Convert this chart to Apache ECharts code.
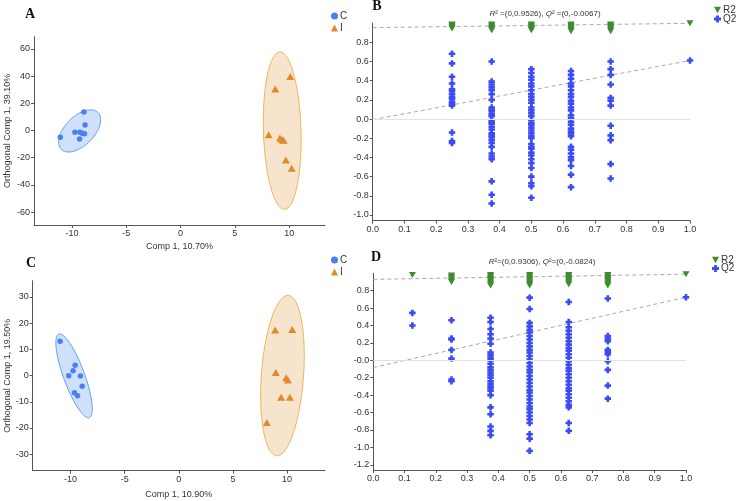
<!DOCTYPE html>
<html><head><meta charset="utf-8">
<script src="https://cdn.jsdelivr.net/npm/echarts@6/dist/echarts.min.js"></script>
<style>html,body{margin:0;padding:0;background:#fff}#c{width:740px;height:501px}</style>
</head><body><div id="c"></div>
<script>
// ---------- Panel A : OPLS-DA scores ----------
const scoresA_C = [[-11.08,-5.0],[-9.73,-1.3],[-9.27,-1.3],[-9.06,-2.1],[-8.85,-2.3],[-9.3,-6.2],[-8.9,13.6],[-8.8,4.0]];
const scoresA_I = [[10.1,39.8],[8.72,30.5],[8.11,-3.1],[9.15,-5.5],[9.34,-6.8],[9.49,-7.2],[9.7,-21.7],[10.23,-27.8]];
// ellipse: [centerX, centerY, axis1X, axis1Y, axis2X, axis2Y]
const ellipseA_C = [-9.3, -0.3, 1.69, 13.55, 0.943, -7.55];
const ellipseA_I = [9.36, -0.1, -0.2, 57.9, 1.73, 0.03];
const ticksA_x = [-10, -5, 0, 5, 10];
const ticksA_y = [-60, -40, -20, 0, 20, 40, 60];

// ---------- Panel C : OPLS-DA scores ----------
const scoresC_C = [[-10.97,13.05],[-9.58,3.9],[-9.77,1.8],[-10.17,-0.1],[-9.09,-0.2],[-8.93,-4.1],[-9.64,-6.6],[-9.36,-7.7]];
const scoresC_I = [[8.9,17.4],[10.47,17.6],[8.96,1.2],[9.92,-0.8],[10.07,-1.7],[9.45,-8.3],[10.26,-8.3],[8.13,-17.9]];
const ellipseC_C = [-9.68, -0.1, -1.414, 15.95, 0.911, 1.378];
const ellipseC_I = [9.57, 0.0, 0.536, 30.6, 1.94, -0.57];
const ticksC_x = [-10, -5, 0, 5, 10];
const ticksC_y = [-30, -20, -10, 0, 10, 20, 30];

// ---------- Panel B : permutation test ----------
const permX_B = [0.25, 0.375, 0.5, 0.625, 0.75];
const r2B = [
  [0.985, 0.975, 0.965, 0.955, 0.945],
  [0.985, 0.975, 0.965, 0.955, 0.945, 0.935, 0.925],
  [0.985, 0.975, 0.965, 0.955, 0.945, 0.935, 0.925],
  [0.985, 0.975, 0.965, 0.955, 0.945, 0.93, 0.915],
  [0.985, 0.975, 0.965, 0.955, 0.945, 0.93, 0.915]
];
const q2B = [
  [0.68, 0.58, 0.44, 0.37, 0.31, 0.29, 0.26, 0.23, 0.21, 0.18, 0.16, 0.14, -0.14, -0.23, -0.25],
  [0.6, 0.39, 0.36, 0.33, 0.3, 0.26, 0.2, 0.12, 0.1, 0.08, 0.05, 0.03, -0.01, -0.03, -0.05, -0.08, -0.11, -0.15, -0.17, -0.19, -0.22, -0.25, -0.29, -0.36, -0.39, -0.42, -0.65, -0.79, -0.88],
  [0.52, 0.48, 0.44, 0.41, 0.37, 0.34, 0.3, 0.26, 0.23, 0.2, 0.17, 0.12, 0.09, 0.06, 0.03, -0.01, -0.04, -0.06, -0.09, -0.12, -0.15, -0.18, -0.2, -0.26, -0.29, -0.31, -0.35, -0.38, -0.42, -0.46, -0.51, -0.6, -0.67, -0.7, -0.82],
  [0.5, 0.46, 0.42, 0.37, 0.34, 0.3, 0.26, 0.23, 0.19, 0.16, 0.12, 0.09, 0.04, 0.01, -0.03, -0.06, -0.1, -0.13, -0.15, -0.18, -0.29, -0.32, -0.36, -0.4, -0.43, -0.49, -0.58, -0.71],
  [0.6, 0.52, 0.46, 0.36, 0.22, 0.19, 0.14, -0.07, -0.17, -0.22, -0.47, -0.62]
];
const origR2B = 0.998, origQ2B = 0.61;
const r2InterceptB = 0.9526, q2InterceptB = -0.0067;
const ticksB_x = ['0.0','0.1','0.2','0.3','0.4','0.5','0.6','0.7','0.8','0.9','1.0'];
const ticksB_y = ['-1.0','-0.8','-0.6','-0.4','-0.2','0.0','0.2','0.4','0.6','0.8'];

// ---------- Panel D : permutation test ----------
const permX_D = [0.125, 0.25, 0.375, 0.5, 0.625, 0.75];
const r2D = [
  [0.98],
  [0.975, 0.96, 0.945, 0.93, 0.915, 0.9],
  [0.98, 0.965, 0.95, 0.935, 0.92, 0.905, 0.89, 0.875, 0.86],
  [0.98, 0.965, 0.95, 0.935, 0.92, 0.905, 0.89, 0.875, 0.86],
  [0.98, 0.965, 0.95, 0.935, 0.92, 0.905, 0.89, 0.875],
  [0.98, 0.965, 0.95, 0.935, 0.92, 0.905, 0.89, 0.875, 0.86]
];
const q2D = [
  [0.545, 0.4],
  [0.46, 0.25, 0.24, 0.12, 0.02, -0.22, -0.24],
  [0.49, 0.44, 0.36, 0.3, 0.25, 0.19, 0.09, 0.06, 0.03, 0.0, -0.04, -0.08, -0.11, -0.14, -0.17, -0.2, -0.24, -0.27, -0.3, -0.32, -0.35, -0.4, -0.54, -0.62, -0.76, -0.81, -0.86],
  [0.72, 0.59, 0.43, 0.39, 0.35, 0.32, 0.28, 0.24, 0.2, 0.16, 0.12, 0.09, 0.05, 0.01, -0.03, -0.07, -0.11, -0.14, -0.18, -0.22, -0.26, -0.3, -0.34, -0.37, -0.41, -0.45, -0.49, -0.53, -0.56, -0.6, -0.64, -0.68, -0.72, -0.85, -0.9, -1.04],
  [0.67, 0.44, 0.38, 0.34, 0.3, 0.26, 0.22, 0.18, 0.14, 0.11, 0.07, 0.03, -0.01, -0.05, -0.09, -0.12, -0.16, -0.2, -0.24, -0.28, -0.32, -0.35, -0.39, -0.43, -0.47, -0.51, -0.54, -0.72, -0.81],
  [0.71, 0.28, 0.25, 0.22, 0.12, 0.1, 0.07, -0.01, -0.11, -0.29, -0.44]
];
const origR2D = 0.99, origQ2D = 0.725;
const r2InterceptD = 0.9306, q2InterceptD = -0.0824;
const ticksD_x = ['0.0','0.1','0.2','0.3','0.4','0.5','0.6','0.7','0.8','0.9','1.0'];
const ticksD_y = ['-1.2','-1.0','-0.8','-0.6','-0.4','-0.2','-0.0','0.2','0.4','0.6','0.8'];

// ---------- styles ----------
const FONT = 'Liberation Sans';
const BLUE = '#4a80f0', ORANGE = '#de8b2c';
const Q2C = '#3c4cf5', R2C = '#3f8c2e';
const PLUS = 'path://M2.4,0H5.6V2.4H8V5.6H5.6V8H2.4V5.6H0V2.4H2.4Z';
const DOWN = 'path://M0,0L10,0L5,9Z';

function labelOf(labels) {
  const vals = labels.map(Number);
  return v => { const i = vals.findIndex(x => Math.abs(x - v) < 1e-9); return i >= 0 ? labels[i] : ''; };
}
function axisBase(gi) {
  return {
    gridIndex: gi, type: 'value',
    axisLine: { onZero: false, lineStyle: { color: '#555', width: 1 } },
    axisTick: { length: 3, lineStyle: { color: '#555' } },
    axisLabel: { color: '#333', fontSize: 9, fontFamily: FONT, margin: 4 },
    splitLine: { show: false },
    nameTextStyle: { color: '#333', fontSize: 9, fontFamily: FONT }
  };
}
function numAxis(gi, min, max, ticks, extra) {
  const a = axisBase(gi);
  a.min = min; a.max = max;
  a.axisLabel.customValues = ticks;
  a.axisTick.customValues = ticks;
  return Object.assign(a, extra || {});
}
function strAxis(gi, min, max, labels, extra) {
  const a = axisBase(gi);
  a.min = min; a.max = max;
  a.axisLabel.customValues = labels.map(Number);
  a.axisTick.customValues = labels.map(Number);
  a.axisLabel.formatter = labelOf(labels);
  return Object.assign(a, extra || {});
}
function ellipseSeries(params, gi, fill, stroke) {
  return {
    type: 'custom', xAxisIndex: gi, yAxisIndex: gi, z: 1, silent: true,
    data: [params], encode: { x: 0, y: 1 },
    renderItem: function (p, api) {
      const cx = api.value(0), cy = api.value(1), ux = api.value(2), uy = api.value(3), vx = api.value(4), vy = api.value(5);
      const pts = [];
      for (let k = 0; k < 120; k++) {
        const t = k / 120 * Math.PI * 2;
        pts.push(api.coord([cx + ux * Math.cos(t) + vx * Math.sin(t), cy + uy * Math.cos(t) + vy * Math.sin(t)]));
      }
      return { type: 'polygon', shape: { points: pts }, style: { fill: fill, stroke: stroke, lineWidth: 1 } };
    }
  };
}
function flatten(xs, cols) {
  const out = [];
  xs.forEach((x, i) => cols[i].forEach(v => out.push([x, v])));
  return out;
}
function permSeries(gi, xs, r2, q2, oR2, oQ2, iR2, iQ2) {
  const dash = { color: '#aaa', width: 1, type: [4, 3] };
  return [
    { type: 'line', xAxisIndex: gi, yAxisIndex: gi, data: [[0, iR2], [1, oR2]], symbol: 'none', lineStyle: dash, z: 3, silent: true },
    { type: 'line', xAxisIndex: gi, yAxisIndex: gi, data: [[0, iQ2], [1, oQ2]], symbol: 'none', lineStyle: dash, z: 3, silent: true },
    { name: 'R2', type: 'scatter', xAxisIndex: gi, yAxisIndex: gi, symbol: DOWN, symbolSize: [7, 6], clip: false,
      itemStyle: { color: R2C, opacity: 1 }, data: flatten(xs, r2).concat([[1, oR2]]), z: 4 },
    { name: 'Q2', type: 'scatter', xAxisIndex: gi, yAxisIndex: gi, symbol: PLUS, symbolSize: 6.5, clip: false,
      itemStyle: { color: Q2C, opacity: 1 }, data: flatten(xs, q2).concat([[1, oQ2]]), z: 4,
      markLine: { silent: true, symbol: 'none', label: { show: false }, animation: false,
        lineStyle: { color: '#e2e2e2', type: 'solid', width: 1 }, data: [{ yAxis: 0 }] } }
  ];
}
function legendAt(left, top, names, icons, gap) {
  return {
    left: left, top: top, orient: 'vertical', padding: 0, itemGap: gap, itemWidth: 7, itemHeight: 7,
    selectedMode: false,
    textStyle: { fontSize: 10, fontFamily: FONT, color: '#333', padding: [0, 0, 0, -3] },
    data: names.map((n, i) => ({ name: n, icon: icons[i] }))
  };
}

const chart = echarts.init(document.getElementById('c'), null, { renderer: 'canvas' });
chart.setOption({
  animation: false,
  backgroundColor: '#fff',
  grid: [
    { left: 34, top: 36.7, width: 291, height: 188.3 },
    { left: 372.7, top: 23.1, width: 317.3, height: 197.6 },
    { left: 32.7, top: 280.7, width: 292.3, height: 190 },
    { left: 373.3, top: 273.3, width: 312.7, height: 196.7 }
  ],
  xAxis: [
    numAxis(0, -13.5, 13.3, ticksA_x, { name: 'Comp 1, 10.70%', nameLocation: 'middle', nameGap: 17 }),
    strAxis(1, 0, 1, ticksB_x, {}),
    numAxis(2, -13.5, 13.5, ticksC_x, { name: 'Comp 1, 10.90%', nameLocation: 'middle', nameGap: 19 }),
    strAxis(3, 0, 1, ticksD_x, {})
  ],
  yAxis: [
    numAxis(0, -69.5, 69, ticksA_y, { name: 'Orthogonal Comp 1, 39.10%', nameLocation: 'middle', nameGap: 22 }),
    strAxis(1, -1.06, 1.0, ticksB_y, {}),
    numAxis(2, -36.3, 36.2, ticksC_y, { name: 'Orthogonal Comp 1, 19.50%', nameLocation: 'middle', nameGap: 21 }),
    strAxis(3, -1.26, 1.0, ticksD_y, {})
  ],
  legend: [
    legendAt(331, 11, ['C', 'I'], ['circle', 'triangle'], 2),
    legendAt(714, 5, ['R2', 'Q2'], [DOWN, PLUS], -1),
    legendAt(331, 255, ['C', 'I'], ['circle', 'triangle'], 2),
    legendAt(712, 255, ['R2', 'Q2'], [DOWN, PLUS], -1.5)
  ],
  graphic: [
    { type: 'text', x: 30, y: 14, style: { text: 'A', font: 'bold 14px "Liberation Serif"', fill: '#111', textAlign: 'center', textVerticalAlign: 'middle' } },
    { type: 'text', x: 377, y: 6.5, style: { text: 'B', font: 'bold 14px "Liberation Serif"', fill: '#111', textAlign: 'center', textVerticalAlign: 'middle' } },
    { type: 'text', x: 31, y: 263, style: { text: 'C', font: 'bold 14px "Liberation Serif"', fill: '#111', textAlign: 'center', textVerticalAlign: 'middle' } },
    { type: 'text', x: 376, y: 257, style: { text: 'D', font: 'bold 14px "Liberation Serif"', fill: '#111', textAlign: 'center', textVerticalAlign: 'middle' } },
    { type: 'text', x: 545, y: 13.5, style: { text: '{i|R}² =(0,0.9526), {i|Q}² =(0,-0.0067)', font: '8px "Liberation Sans"', fill: '#333', textAlign: 'center', textVerticalAlign: 'middle',
        rich: { i: { fontStyle: 'italic', fontSize: 8, fontFamily: FONT, fill: '#333' } } } },
    { type: 'text', x: 542, y: 262, style: { text: '{i|R}²=(0,0.9306), {i|Q}²=(0,-0.0824)', font: '8px "Liberation Sans"', fill: '#333', textAlign: 'center', textVerticalAlign: 'middle',
        rich: { i: { fontStyle: 'italic', fontSize: 8, fontFamily: FONT, fill: '#333' } } } }
  ],
  series: [
    ellipseSeries(ellipseA_C, 0, '#cfe0fb', '#5f9ef2'),
    ellipseSeries(ellipseA_I, 0, '#f6e4cc', '#efb55a'),
    { name: 'C', type: 'scatter', xAxisIndex: 0, yAxisIndex: 0, symbol: 'circle', symbolSize: 5.5, itemStyle: { color: BLUE, opacity: 1 }, data: scoresA_C, z: 5 },
    { name: 'I', type: 'scatter', xAxisIndex: 0, yAxisIndex: 0, symbol: 'triangle', symbolSize: [8, 7], itemStyle: { color: ORANGE, opacity: 1 }, data: scoresA_I, z: 5 },
    ...permSeries(1, permX_B, r2B, q2B, origR2B, origQ2B, r2InterceptB, q2InterceptB),
    ellipseSeries(ellipseC_C, 2, '#cfe0fb', '#5f9ef2'),
    ellipseSeries(ellipseC_I, 2, '#f6e4cc', '#efb55a'),
    { name: 'C', type: 'scatter', xAxisIndex: 2, yAxisIndex: 2, symbol: 'circle', symbolSize: 5.5, itemStyle: { color: BLUE, opacity: 1 }, data: scoresC_C, z: 5 },
    { name: 'I', type: 'scatter', xAxisIndex: 2, yAxisIndex: 2, symbol: 'triangle', symbolSize: [8, 7], itemStyle: { color: ORANGE, opacity: 1 }, data: scoresC_I, z: 5 },
    ...permSeries(3, permX_D, r2D, q2D, origR2D, origQ2D, r2InterceptD, q2InterceptD)
  ]
});
</script></body></html>
